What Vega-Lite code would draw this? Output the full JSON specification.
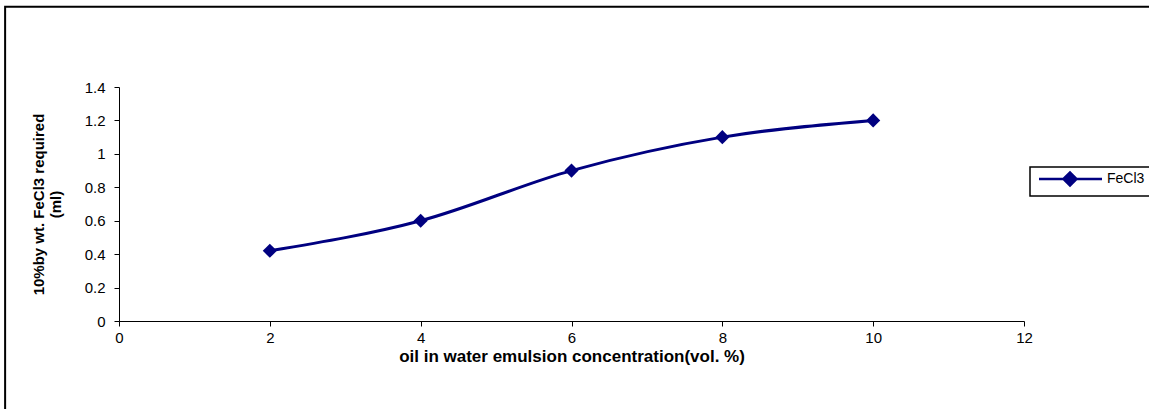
{
  "$schema": "https://vega.github.io/schema/vega-lite/v6.json",
  "width": 905,
  "height": 234,
  "autosize": {"type": "none"},
  "padding": {"left": 119, "top": 87, "right": 125, "bottom": 88},
  "background": "white",
  "config": {
    "view": {"stroke": null},
    "font": "Liberation Sans",
    "axis": {
      "grid": false,
      "tickSize": 5,
      "domainColor": "black",
      "tickColor": "black",
      "labelColor": "black",
      "labelFontSize": 15,
      "labelFlush": false,
      "labelOverlap": false,
      "titleFontWeight": "bold",
      "titleColor": "black"
    },
    "axisX": {"labelPadding": 4, "titleFontSize": 17, "titlePadding": 3},
    "axisY": {"labelPadding": 9, "titleFontSize": 15, "titleLineHeight": 17, "titlePadding": 21}
  },
  "data": {
    "values": [
      {"conc": 2, "fecl3": 0.42, "series": "FeCl3"},
      {"conc": 4, "fecl3": 0.6, "series": "FeCl3"},
      {"conc": 6, "fecl3": 0.9, "series": "FeCl3"},
      {"conc": 8, "fecl3": 1.1, "series": "FeCl3"},
      {"conc": 10, "fecl3": 1.2, "series": "FeCl3"}
    ]
  },
  "layer": [
    {
      "data": {"values": [{}]},
      "mark": {"type": "rect", "fillOpacity": 0, "stroke": "black", "strokeWidth": 2, "clip": false},
      "encoding": {
        "x": {
          "datum": -1.51, "type": "quantitative",
          "scale": {"domain": [0, 12], "nice": false},
          "axis": {"title": "oil in water emulsion concentration(vol. %)", "values": [0, 2, 4, 6, 8, 10, 12], "format": "~g"}
        },
        "x2": {"datum": 20},
        "y": {
          "datum": 1.88, "type": "quantitative",
          "scale": {"domain": [0, 1.4], "nice": false},
          "axis": {"title": ["10%by wt. FeCl3 required", "(ml)"], "values": [0, 0.2, 0.4, 0.6, 0.8, 1, 1.2, 1.4], "format": "~g"}
        },
        "y2": {"datum": -2}
      }
    },
    {
      "mark": {"type": "line", "interpolate": "monotone", "strokeWidth": 3},
      "encoding": {
        "x": {
          "field": "conc", "type": "quantitative",
          "scale": {"domain": [0, 12], "nice": false},
          "axis": {"title": "oil in water emulsion concentration(vol. %)", "values": [0, 2, 4, 6, 8, 10, 12], "format": "~g"}
        },
        "y": {
          "field": "fecl3", "type": "quantitative",
          "scale": {"domain": [0, 1.4], "nice": false},
          "axis": {"title": ["10%by wt. FeCl3 required", "(ml)"], "values": [0, 0.2, 0.4, 0.6, 0.8, 1, 1.2, 1.4], "format": "~g"}
        },
        "color": {
          "field": "series",
          "type": "nominal",
          "scale": {"domain": ["FeCl3"], "range": ["#000080"]},
          "legend": {
            "title": null,
            "orient": "none",
            "legendX": 911,
            "legendY": 80,
            "padding": 5,
            "strokeColor": "black",
            "fillColor": "white",
            "symbolType": "M-0.6,0L12,0M4.3,0L5.6,-1.3L6.9,0L5.6,1.3Z",
            "symbolSize": 100,
            "symbolStrokeWidth": 2.5,
            "labelOffset": 58,
            "labelFontSize": 14,
            "labelColor": "black",
            "encode": {
              "symbols": {"update": {"fill": {"value": "#000080"}, "stroke": {"value": "#000080"}, "opacity": {"value": 1}}},
              "legend": {"update": {"strokeWidth": {"value": 1.5}}}
            }
          }
        }
      }
    },
    {
      "mark": {"type": "point", "shape": "diamond", "filled": true, "size": 200, "opacity": 1},
      "encoding": {
        "x": {
          "field": "conc", "type": "quantitative",
          "axis": {"title": "oil in water emulsion concentration(vol. %)", "values": [0, 2, 4, 6, 8, 10, 12], "format": "~g"}
        },
        "y": {
          "field": "fecl3", "type": "quantitative",
          "axis": {"title": ["10%by wt. FeCl3 required", "(ml)"], "values": [0, 0.2, 0.4, 0.6, 0.8, 1, 1.2, 1.4], "format": "~g"}
        },
        "color": {"field": "series", "type": "nominal"}
      }
    }
  ]
}
